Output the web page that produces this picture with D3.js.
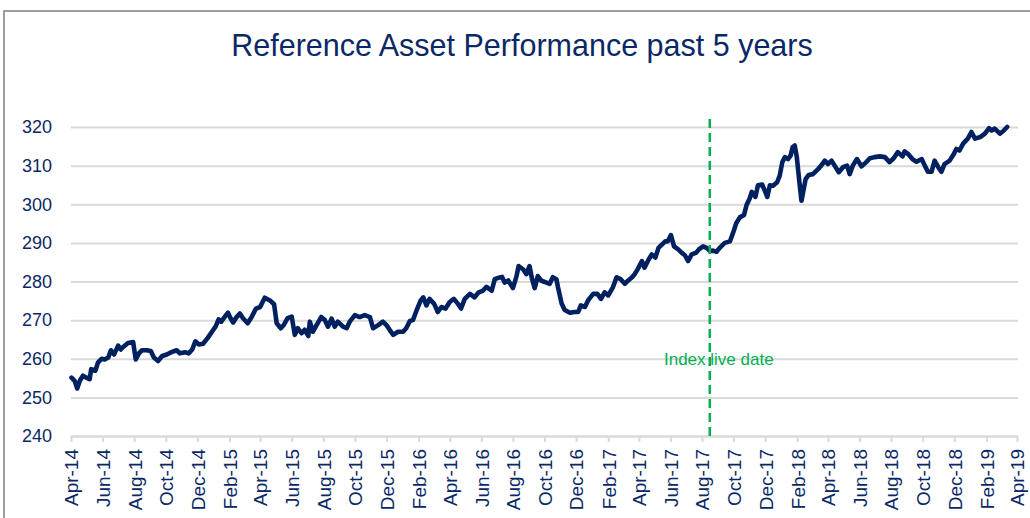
<!DOCTYPE html>
<html>
<head>
<meta charset="utf-8">
<script src="https://cdn.jsdelivr.net/npm/d3@7"></script>
<style>
  body { margin: 0; background: #fff; }
  svg { display: block; font-family: "Liberation Sans", Arial, sans-serif; }
</style>
</head>
<body>
<svg id="chart" width="1030" height="518"></svg>
<script>
/* Chart data */

const TITLE = "Reference Asset Performance past 5 years";
const LIVE_DATE = "2017-08-16";
const LIVE_LABEL = "Index live date";

const yTicks = [240, 250, 260, 270, 280, 290, 300, 310, 320];
const tickLabels = ["Apr-14", "Jun-14", "Aug-14", "Oct-14", "Dec-14", "Feb-15", "Apr-15", "Jun-15",
    "Aug-15", "Oct-15", "Dec-15", "Feb-16", "Apr-16", "Jun-16", "Aug-16", "Oct-16", "Dec-16",
    "Feb-17", "Apr-17", "Jun-17", "Aug-17", "Oct-17", "Dec-17", "Feb-18", "Apr-18", "Jun-18",
    "Aug-18", "Oct-18", "Dec-18", "Feb-19", "Apr-19"];

const prices2014 = [
    ["2014-04-02", 255.1], ["2014-04-08", 254.3], ["2014-04-13", 252.3], ["2014-04-18", 254.3],
    ["2014-04-24", 255.6], ["2014-05-01", 255.1], ["2014-05-07", 254.7], ["2014-05-10", 257.3],
    ["2014-05-18", 256.9], ["2014-05-23", 259.0], ["2014-05-30", 260.0], ["2014-06-05", 259.8],
    ["2014-06-12", 260.3], ["2014-06-17", 262.2], ["2014-06-23", 261.1], ["2014-07-01", 263.4],
    ["2014-07-06", 262.4], ["2014-07-12", 263.2], ["2014-07-20", 264.1], ["2014-07-30", 264.3],
    ["2014-08-04", 259.8], ["2014-08-10", 261.4], ["2014-08-16", 262.2], ["2014-08-25", 262.2],
    ["2014-09-02", 262.0], ["2014-09-08", 260.3], ["2014-09-16", 259.4], ["2014-09-24", 260.7],
    ["2014-10-03", 261.1], ["2014-10-12", 261.7], ["2014-10-22", 262.2], ["2014-10-28", 261.4],
    ["2014-11-07", 261.7], ["2014-11-14", 261.4], ["2014-11-21", 262.4], ["2014-11-27", 264.5],
    ["2014-12-04", 263.7], ["2014-12-12", 263.9], ["2014-12-21", 265.4], ["2014-12-28", 266.8]
];

const prices2015 = [
    ["2015-01-05", 268.3], ["2015-01-11", 270.2], ["2015-01-16", 269.6], ["2015-01-23", 270.9],
    ["2015-01-29", 271.9], ["2015-02-03", 270.5], ["2015-02-08", 269.4], ["2015-02-14", 270.7],
    ["2015-02-21", 271.7], ["2015-02-27", 270.5], ["2015-03-08", 269.2], ["2015-03-16", 270.9],
    ["2015-03-24", 273.0], ["2015-04-01", 273.4], ["2015-04-10", 275.8], ["2015-04-20", 275.1],
    ["2015-04-28", 274.1], ["2015-05-03", 269.2], ["2015-05-11", 267.9], ["2015-05-17", 268.8],
    ["2015-05-24", 270.5], ["2015-06-01", 270.9], ["2015-06-07", 266.2], ["2015-06-13", 267.9],
    ["2015-06-20", 266.6], ["2015-06-26", 267.5], ["2015-07-03", 265.9], ["2015-07-06", 269.6],
    ["2015-07-12", 267.0], ["2015-07-19", 268.7], ["2015-07-28", 270.8], ["2015-08-04", 270.0],
    ["2015-08-10", 268.3], ["2015-08-17", 270.4], ["2015-08-23", 268.3], ["2015-08-29", 269.6],
    ["2015-09-08", 268.3], ["2015-09-15", 267.9], ["2015-09-21", 269.6], ["2015-10-01", 271.3],
    ["2015-10-10", 270.8], ["2015-10-20", 271.3], ["2015-10-30", 270.8], ["2015-11-05", 267.9],
    ["2015-11-15", 268.7], ["2015-11-24", 269.6], ["2015-12-01", 268.7], ["2015-12-07", 267.5],
    ["2015-12-14", 266.2], ["2015-12-23", 267.0]
];

const prices2016 = [
    ["2016-01-02", 267.0], ["2016-01-08", 267.9], ["2016-01-15", 269.8], ["2016-01-21", 270.0],
    ["2016-01-28", 272.5], ["2016-02-05", 275.1], ["2016-02-10", 275.9], ["2016-02-16", 273.8],
    ["2016-02-22", 275.5], ["2016-03-02", 274.2], ["2016-03-09", 272.1], ["2016-03-16", 273.4],
    ["2016-03-24", 273.0], ["2016-04-01", 274.7], ["2016-04-09", 275.5], ["2016-04-17", 274.2],
    ["2016-04-23", 273.0], ["2016-04-30", 275.5], ["2016-05-10", 276.8], ["2016-05-19", 275.9],
    ["2016-05-27", 277.2], ["2016-06-04", 277.6], ["2016-06-11", 278.6], ["2016-06-21", 277.6],
    ["2016-06-27", 280.6], ["2016-07-05", 281.0], ["2016-07-11", 281.2], ["2016-07-16", 279.7],
    ["2016-07-23", 280.3], ["2016-08-01", 278.3], ["2016-08-08", 281.4], ["2016-08-12", 284.0],
    ["2016-08-21", 283.1], ["2016-08-27", 281.9], ["2016-09-02", 284.0], ["2016-09-07", 280.6],
    ["2016-09-12", 278.3], ["2016-09-18", 281.4], ["2016-09-25", 280.2], ["2016-10-05", 279.7],
    ["2016-10-11", 279.4], ["2016-10-17", 281.1], ["2016-10-24", 280.6], ["2016-10-27", 278.5],
    ["2016-11-03", 274.3], ["2016-11-09", 272.6], ["2016-11-19", 271.9], ["2016-11-28", 272.1],
    ["2016-12-05", 272.1], ["2016-12-10", 273.8], ["2016-12-18", 273.4], ["2016-12-24", 275.1]
];

const prices2017 = [
    ["2017-01-03", 276.8], ["2017-01-11", 276.8], ["2017-01-18", 275.5], ["2017-01-25", 277.2],
    ["2017-02-01", 276.4], ["2017-02-10", 278.5], ["2017-02-17", 281.1], ["2017-02-25", 280.6],
    ["2017-03-05", 279.4], ["2017-03-11", 280.2], ["2017-03-19", 281.1], ["2017-03-24", 281.9],
    ["2017-03-30", 283.2], ["2017-04-07", 285.3], ["2017-04-12", 283.6], ["2017-04-20", 285.7],
    ["2017-04-26", 287.0], ["2017-05-03", 286.2], ["2017-05-09", 288.7], ["2017-05-16", 289.6],
    ["2017-05-22", 290.4], ["2017-05-27", 290.4], ["2017-06-02", 292.0], ["2017-06-08", 289.1],
    ["2017-06-16", 288.3], ["2017-06-23", 287.4], ["2017-06-29", 286.8], ["2017-07-05", 285.3],
    ["2017-07-12", 287.0], ["2017-07-20", 287.4], ["2017-07-26", 288.3], ["2017-08-03", 289.1],
    ["2017-08-10", 288.7], ["2017-08-16", 287.9], ["2017-08-22", 288.0], ["2017-08-29", 287.7],
    ["2017-09-04", 288.7], ["2017-09-14", 290.0], ["2017-09-24", 290.4], ["2017-09-30", 292.6],
    ["2017-10-06", 295.1], ["2017-10-13", 296.6], ["2017-10-21", 297.2], ["2017-10-26", 299.8],
    ["2017-11-01", 301.5], ["2017-11-05", 303.2], ["2017-11-12", 301.9], ["2017-11-17", 304.9],
    ["2017-11-25", 305.1], ["2017-11-30", 303.6], ["2017-12-05", 301.9], ["2017-12-10", 304.9],
    ["2017-12-16", 304.8], ["2017-12-24", 305.7], ["2017-12-29", 307.4]
];

const prices2018 = [
    ["2018-01-03", 310.9], ["2018-01-08", 312.2], ["2018-01-14", 311.7], ["2018-01-19", 312.6],
    ["2018-01-23", 314.8], ["2018-01-27", 315.2], ["2018-01-31", 312.2], ["2018-02-05", 305.7],
    ["2018-02-09", 300.9], ["2018-02-12", 303.0], ["2018-02-17", 306.5], ["2018-02-23", 307.6],
    ["2018-03-03", 307.8], ["2018-03-13", 309.1], ["2018-03-19", 310.0], ["2018-03-26", 311.3],
    ["2018-04-01", 310.4], ["2018-04-08", 311.3], ["2018-04-14", 310.0], ["2018-04-22", 308.3],
    ["2018-04-30", 309.6], ["2018-05-08", 310.0], ["2018-05-13", 307.8], ["2018-05-19", 310.0],
    ["2018-05-27", 311.7], ["2018-06-05", 309.8], ["2018-06-14", 310.9], ["2018-06-21", 311.9],
    ["2018-06-30", 312.2], ["2018-07-10", 312.4], ["2018-07-20", 312.2], ["2018-07-29", 310.9],
    ["2018-08-06", 311.9], ["2018-08-14", 313.5], ["2018-08-23", 312.4], ["2018-08-27", 313.7],
    ["2018-09-03", 313.0], ["2018-09-11", 311.7], ["2018-09-19", 311.0], ["2018-09-29", 311.7],
    ["2018-10-05", 310.0], ["2018-10-11", 308.4], ["2018-10-18", 308.4], ["2018-10-24", 311.3],
    ["2018-10-31", 309.6], ["2018-11-06", 308.4], ["2018-11-12", 310.4], ["2018-11-22", 311.3],
    ["2018-11-30", 313.0], ["2018-12-05", 314.3], ["2018-12-11", 313.9], ["2018-12-18", 315.7],
    ["2018-12-27", 317.0]
];

const prices2019 = [
    ["2019-01-03", 318.7], ["2019-01-10", 317.0], ["2019-01-20", 317.4], ["2019-01-29", 318.3],
    ["2019-02-06", 319.7], ["2019-02-11", 319.1], ["2019-02-17", 319.6], ["2019-02-27", 318.3],
    ["2019-03-05", 318.9], ["2019-03-13", 320.0]
];

/* Layout */
const WIDTH = 1030;
const HEIGHT = 518;
const PLOT = {left: 71, right: 1017, top: 127, bottom: 436};
const NAVY = "#0b2866";
const LINE_COLOR = "#002060";
const GREEN = "#00b050";
const GRID = "#d9d9d9";

const parseDay = d3.timeParse("%Y-%m-%d");
const parseTick = d3.timeParse("%b-%y");

const series = [].concat(prices2014, prices2015, prices2016, prices2017, prices2018, prices2019)
    .map(d => ({date: parseDay(d[0]), value: d[1]}));
const tickDates = tickLabels.map(parseTick);

const svg = d3.select("#chart");

//Outer chart border (only top and left edge fall inside the picture).
svg.append("rect")
    .attr("x", 4).attr("y", 11)
    .attr("width", WIDTH + 20).attr("height", HEIGHT + 20)
    .attr("fill", "none")
    .attr("stroke", "#7f7f7f")
    .attr("stroke-width", 1.5);

svg.append("text")
    .attr("x", 522).attr("y", 56)
    .attr("text-anchor", "middle")
    .attr("font-size", 30.5)
    .attr("fill", NAVY)
    .text(TITLE);

const x = d3.scaleTime()
    .domain([tickDates[0], tickDates[tickDates.length - 1]])
    .range([PLOT.left, PLOT.right]);

const y = d3.scaleLinear()
    .domain([yTicks[0], yTicks[yTicks.length - 1]])
    .range([PLOT.bottom, PLOT.top]);

//Horizontal gridlines + y labels
const yAxis = svg.append("g")
    .attr("transform", `translate(${PLOT.left},0)`)
    .call(d3.axisLeft(y).tickValues(yTicks).tickSize(-(PLOT.right - PLOT.left + 1)).tickPadding(19));
yAxis.select(".domain").remove();
yAxis.selectAll(".tick line")
    .attr("stroke", GRID)
    .attr("stroke-width", 2);
yAxis.selectAll(".tick text")
    .attr("font-size", 18)
    .attr("font-family", "Liberation Sans, Arial, sans-serif")
    .attr("fill", NAVY);

//Bottom axis with rotated month labels
const xAxis = svg.append("g")
    .attr("transform", `translate(0,${PLOT.bottom})`)
    .call(d3.axisBottom(x).tickValues(tickDates).tickFormat((d, i) => tickLabels[i]).tickSize(6).tickSizeOuter(0));
xAxis.select(".domain")
    .attr("stroke", GRID)
    .attr("stroke-width", 2);
xAxis.selectAll(".tick line")
    .attr("stroke", GRID)
    .attr("stroke-width", 2);
xAxis.selectAll(".tick text")
    .attr("font-size", 19)
    .attr("font-family", "Liberation Sans, Arial, sans-serif")
    .attr("fill", NAVY)
    .attr("text-anchor", "end")
    .attr("transform", "rotate(-90)")
    .attr("x", -13)
    .attr("y", 0)
    .attr("dy", "0.36em");

//Price line
const line = d3.line()
    .x(d => x(d.date))
    .y(d => y(d.value))
    .curve(d3.curveLinear);

svg.append("path")
    .datum(series)
    .attr("fill", "none")
    .attr("stroke", LINE_COLOR)
    .attr("stroke-width", 4.6)
    .attr("stroke-linejoin", "round")
    .attr("stroke-linecap", "round")
    .attr("d", line);

//Index live date marker
const liveX = x(parseDay(LIVE_DATE));
svg.append("line")
    .attr("x1", liveX).attr("x2", liveX)
    .attr("y1", PLOT.top - 8).attr("y2", PLOT.bottom)
    .attr("stroke", GREEN)
    .attr("stroke-width", 2.5)
    .attr("stroke-dasharray", "9,5");

svg.append("text")
    .attr("x", liveX + 9).attr("y", 365)
    .attr("text-anchor", "middle")
    .attr("font-size", 17)
    .attr("fill", GREEN)
    .text(LIVE_LABEL);
</script>
</body>
</html>
